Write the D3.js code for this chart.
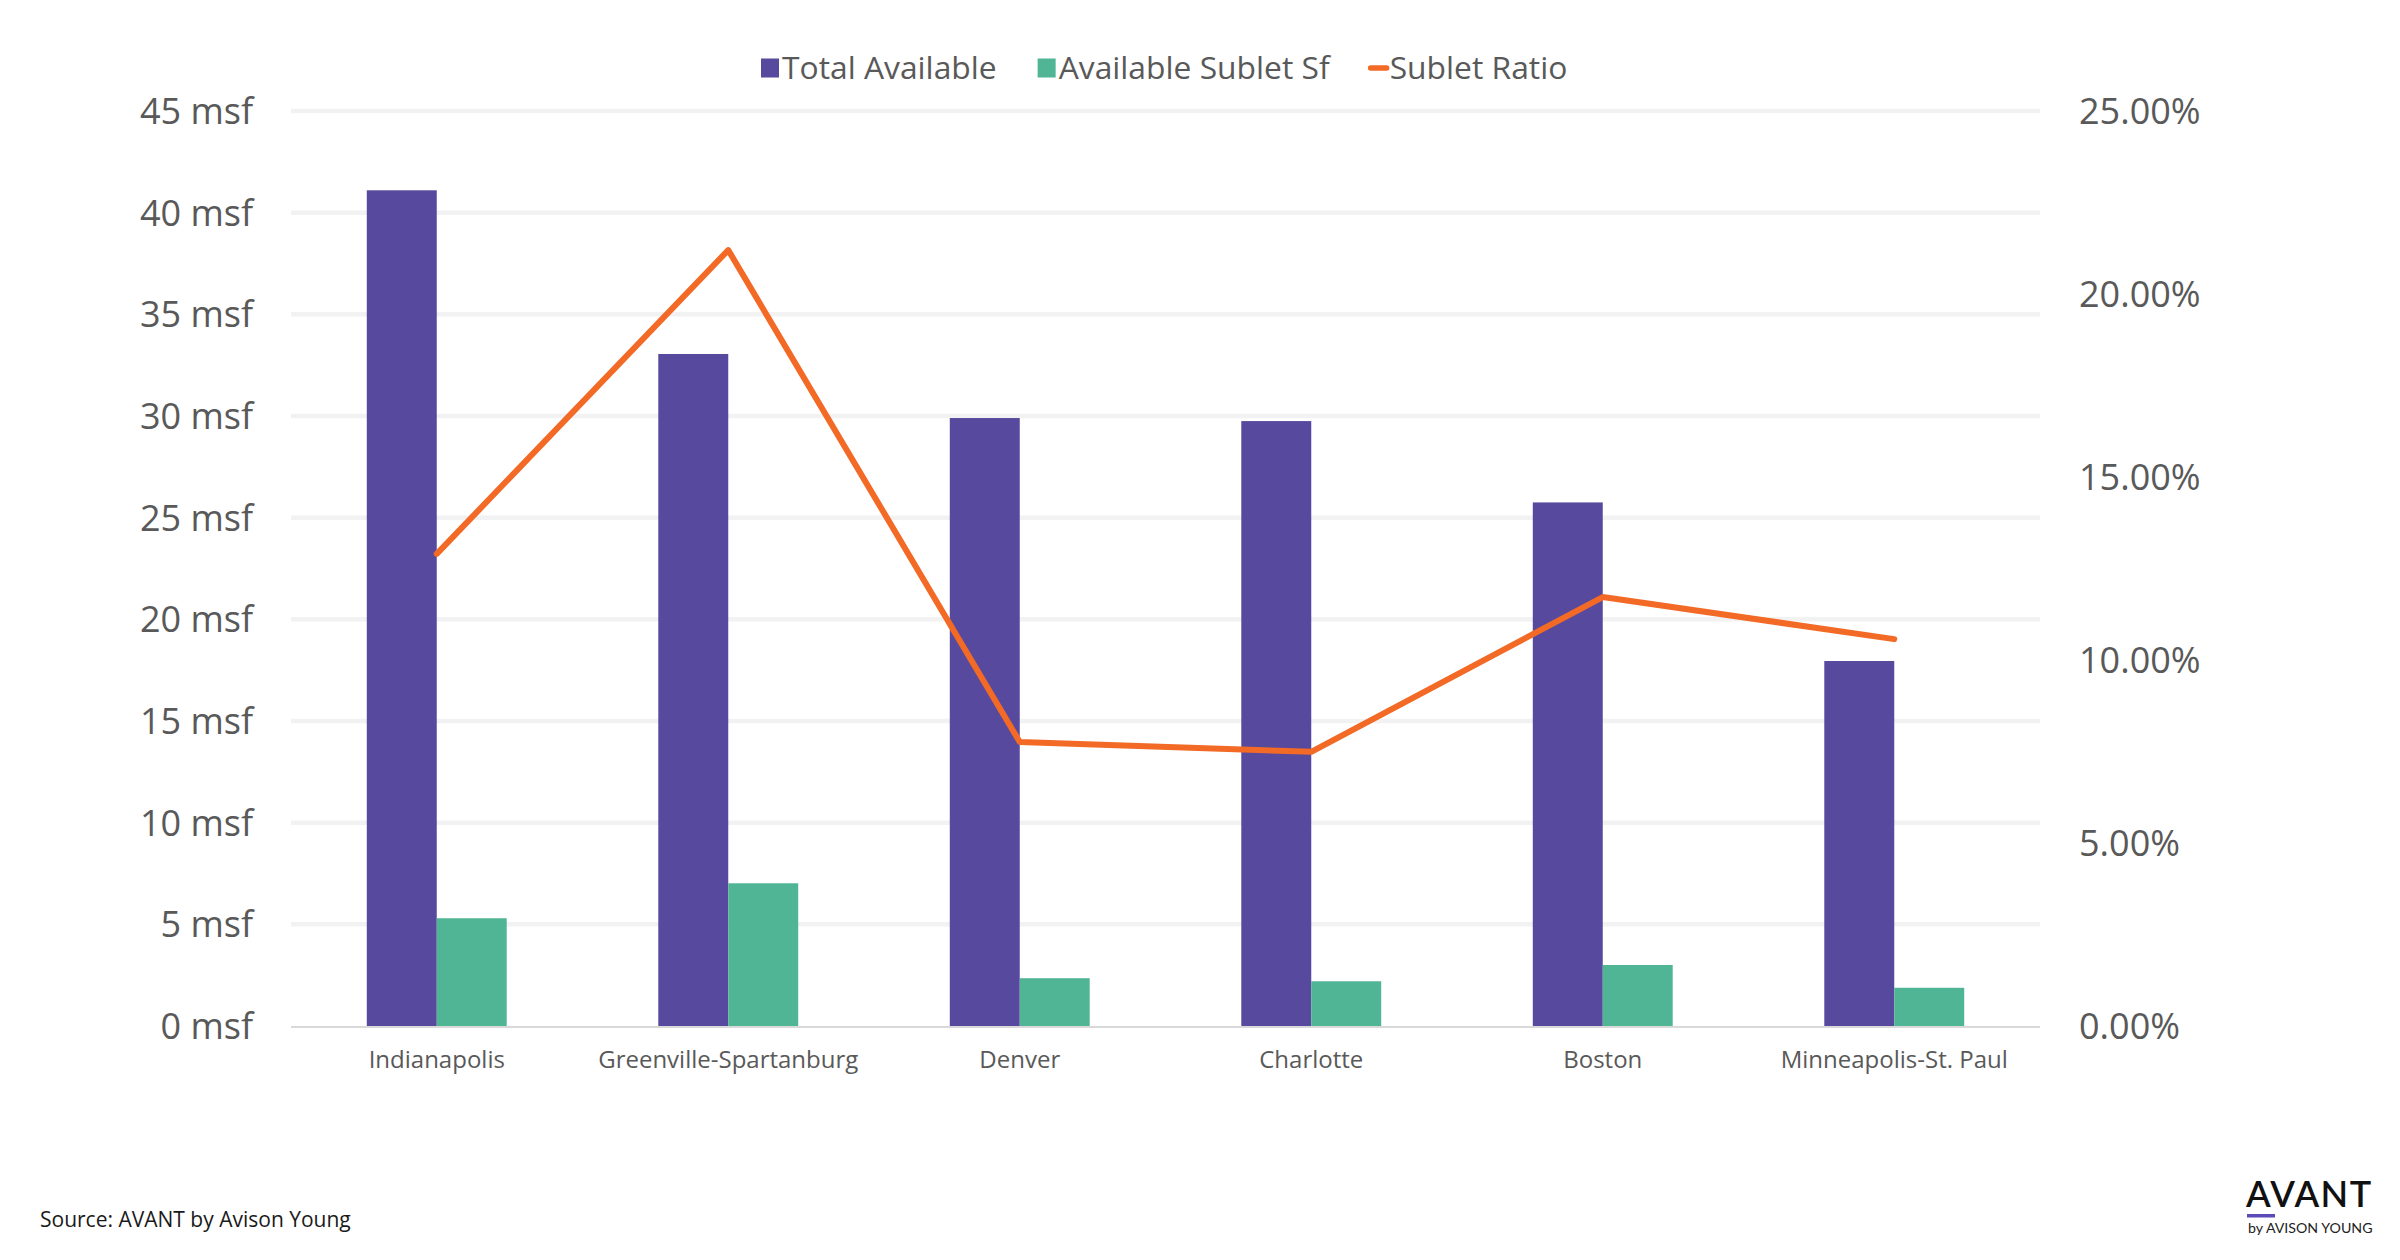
<!DOCTYPE html>
<html><head><meta charset="utf-8">
<script src="https://cdn.jsdelivr.net/npm/d3@7"></script>
<style>
html,body{margin:0;padding:0;background:#fff;}
svg{display:block;font-family:"Open Sans",sans-serif;}
</style></head><body>
<svg id="chart" width="2400" height="1260"></svg>
<script>
// ---- data ----
const categories = ["Indianapolis","Greenville-Spartanburg","Denver","Charlotte","Boston","Minneapolis-St. Paul"];
const totalAvailable = [41.1, 33.05, 29.9, 29.75, 25.75, 17.95];
const availableSublet = [5.3, 7.02, 2.35, 2.2, 3.0, 1.88];
const subletRatio = [12.9, 21.2, 7.76, 7.49, 11.72, 10.57];
const leftTicks = [0,5,10,15,20,25,30,35,40,45];
const rightTicks = [0,5,10,15,20,25];
const seriesNames = ["Total Available","Available Sublet Sf","Sublet Ratio"];
const seriesColors = ["#56499E","#4FB595","#F26A25"];
const sourceText = "Source: AVANT by Avison Young";

// ---- layout ----
const svg = d3.select("#chart");
const plot = {left: 291, right: 2040, top: 111, bottom: 1026};
const textColor = "#595959";

const x = d3.scaleBand().domain(categories).range([plot.left, plot.right]).paddingInner(0).paddingOuter(0);
const groupFrac = 0.48;
const xSub = d3.scaleBand().domain([0,1]).range([0, x.bandwidth()*groupFrac]);
const yL = d3.scaleLinear().domain([0,45]).range([plot.bottom, plot.top]);
const yR = d3.scaleLinear().domain([0,25]).range([plot.bottom, plot.top]);

// gridlines
svg.append("g").selectAll("line").data(leftTicks.filter(d=>d>0)).join("line")
  .attr("x1", plot.left).attr("x2", plot.right)
  .attr("y1", d=>yL(d)).attr("y2", d=>yL(d))
  .attr("stroke", "#F2F2F2").attr("stroke-width", 4.5);
svg.append("line").attr("x1", plot.left).attr("x2", plot.right)
  .attr("y1", yL(0)+1).attr("y2", yL(0)+1)
  .attr("stroke", "#D9D9D9").attr("stroke-width", 2);

// left axis
const leftAxis = d3.axisLeft(yL).tickValues(leftTicks).tickSize(0).tickPadding(0)
  .tickFormat(d => d + " msf");
const gL = svg.append("g").attr("transform", "translate(253,0)").call(leftAxis);
gL.select(".domain").remove();
gL.selectAll("text").attr("font-size", 36).attr("fill", textColor)
  .attr("font-family", "'Open Sans', sans-serif").attr("dy", "0.35em");

// right axis
const rightAxis = d3.axisRight(yR).tickValues(rightTicks).tickSize(0).tickPadding(0)
  .tickFormat(d => d.toFixed(2) + "%");
const gR = svg.append("g").attr("transform", "translate(2079,0)").call(rightAxis);
gR.select(".domain").remove();
gR.selectAll("text").attr("font-size", 36).attr("fill", textColor)
  .attr("font-family", "'Open Sans', sans-serif").attr("dy", "0.35em");

// bottom axis
const bottomAxis = d3.axisBottom(x).tickSize(0).tickPadding(0);
const gB = svg.append("g").attr("transform", "translate(0,1051)").call(bottomAxis);
gB.select(".domain").remove();
gB.selectAll("text").attr("font-size", 24).attr("fill", textColor)
  .attr("font-family", "'Open Sans', sans-serif").attr("dy", "0.71em");

// bars
const groupOffset = (x.bandwidth() - x.bandwidth()*groupFrac)/2;
const barSeries = [totalAvailable, availableSublet];
barSeries.forEach((vals, si) => {
  svg.append("g").selectAll("rect").data(categories).join("rect")
    .attr("x", (c) => x(c) + groupOffset + xSub(si))
    .attr("width", xSub.bandwidth())
    .attr("y", (c,i) => yL(vals[i]))
    .attr("height", (c,i) => yL(0) - yL(vals[i]))
    .attr("fill", seriesColors[si]);
});

// line
const line = d3.line()
  .x((d,i) => x(categories[i]) + x.bandwidth()/2)
  .y(d => yR(d));
svg.append("path").datum(subletRatio).attr("d", line)
  .attr("fill", "none").attr("stroke", seriesColors[2]).attr("stroke-width", 6)
  .attr("stroke-linejoin", "round").attr("stroke-linecap", "round");

// legend
const legend = svg.append("g");
let lx = 761;
const ly = 68;
const legendGap = [41, 38, 0];
seriesNames.forEach((name, i) => {
  if (i < 2) {
    legend.append("rect").attr("x", lx).attr("y", ly-9.5).attr("width", 18).attr("height", 19)
      .attr("fill", seriesColors[i]);
    lx += 21;
  } else {
    legend.append("line").attr("x1", lx+3).attr("x2", lx+19).attr("y1", ly).attr("y2", ly)
      .attr("stroke", seriesColors[i]).attr("stroke-width", 5.5).attr("stroke-linecap", "round");
    lx += 22;
  }
  const t = legend.append("text").attr("x", lx).attr("y", ly).attr("dy", "0.35em")
    .attr("font-size", 31.8).attr("fill", textColor).text(name);
  lx += t.node().getComputedTextLength() + legendGap[i];
});

// source
svg.append("text").attr("x", 40).attr("y", 1227).attr("font-size", 21).attr("fill", "#1a1a1a")
  .text(sourceText);

// logo
const logo = svg.append("g");
logo.append("text").attr("x", 2246).attr("y", 1207).attr("font-family", "Lato, sans-serif")
  .attr("font-weight", 600).attr("font-size", 36).attr("fill", "#111").attr("letter-spacing", "1.5").text("AVANT");
logo.append("rect").attr("x", 2247).attr("y", 1214).attr("width", 28).attr("height", 3.5).attr("fill", "#5B4BB7");
logo.append("text").attr("x", 2248).attr("y", 1233).attr("font-family", "Lato, sans-serif")
  .attr("font-size", 14.2).attr("fill", "#222").attr("letter-spacing", "0").text("by AVISON YOUNG");
</script>
</body></html>
